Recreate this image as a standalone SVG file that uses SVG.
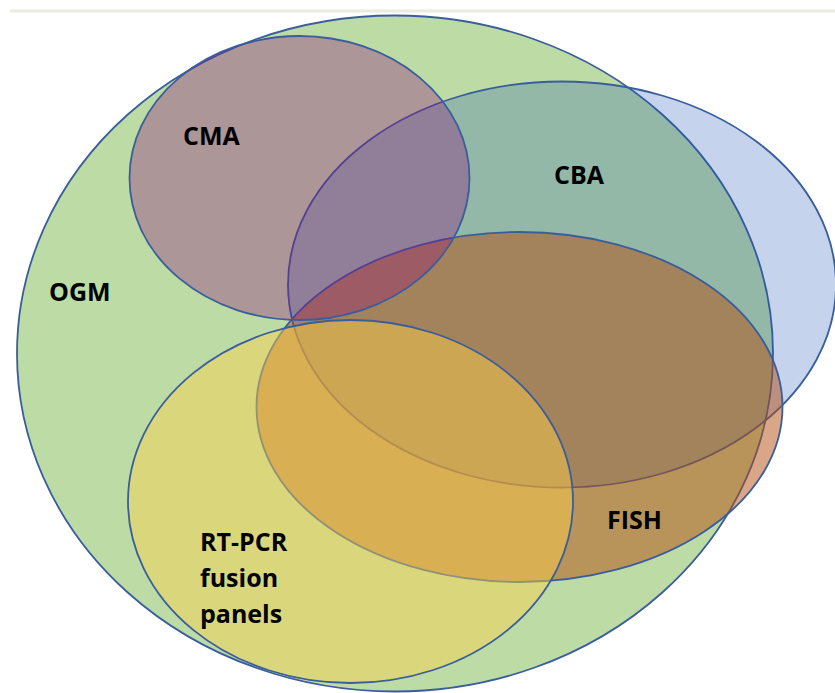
<svg xmlns="http://www.w3.org/2000/svg" width="835" height="693" viewBox="0 0 835 693">
  <style>
    .set { stroke: #3a5d9c; stroke-width: 1.8; }
    .lbl { font-family: "Open Sans", "Liberation Sans", sans-serif; font-weight: 700; font-size: 25px; fill: #000; }
  </style>
  <rect x="0" y="0" width="835" height="693" fill="#ffffff"/>
  <line x1="10" y1="11" x2="835" y2="11" stroke="#ecebdf" stroke-width="3"/>
  <g id="OGM">
    <ellipse class="set" cx="395" cy="353.5" rx="378" ry="338" fill="#bcdba5"/>
    <text class="lbl" x="49" y="301">OGM</text>
  </g>
  <g id="CBA">
    <ellipse class="set" cx="562" cy="284.5" rx="274" ry="203" fill="rgb(24,80,180)" fill-opacity="0.25"/>
    <text class="lbl" x="554" y="184">CBA</text>
  </g>
  <g id="FISH">
    <ellipse class="set" cx="519.5" cy="407" rx="263" ry="175" fill="rgb(180,77,15)" fill-opacity="0.5"/>
    <text class="lbl" x="607" y="529">FISH</text>
  </g>
  <g id="RT-PCR">
    <ellipse class="set" cx="350.5" cy="501.5" rx="222.5" ry="181.5" fill="rgb(255,208,74)" fill-opacity="0.45"/>
    <text class="lbl" x="200" y="551">RT-PCR</text>
    <text class="lbl" x="200" y="587">fusion</text>
    <text class="lbl" x="200" y="623">panels</text>
  </g>
  <g id="CMA">
    <ellipse class="set" cx="299.5" cy="178" rx="170" ry="142" fill="rgb(144,6,122)" fill-opacity="0.32"/>
    <text class="lbl" x="183" y="145">CMA</text>
  </g>
</svg>
